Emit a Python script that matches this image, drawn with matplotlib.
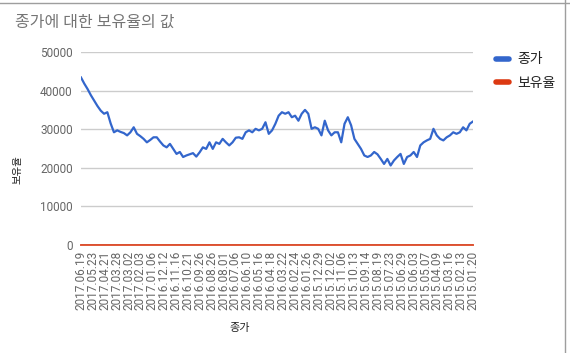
import numpy as np
import matplotlib
matplotlib.use("Agg")
import matplotlib.pyplot as plt
from matplotlib.lines import Line2D
from matplotlib.transforms import ScaledTranslation

plt.rcParams['font.family'] = ['Roboto', 'Noto Sans CJK KR', 'DejaVu Sans']

# 종가 (closing price), left to right as in the sheet (newest first)
closes = [43400, 41800, 40400, 38800, 37400, 36000, 34800, 34000, 34400, 31500,
          29200, 29700, 29300, 29000, 28400, 29200, 30500, 28800, 28200, 27500,
          26600, 27200, 27900, 27900, 26800, 25800, 25300, 26200, 24900, 23600,
          24100, 22800, 23200, 23500, 23800, 22900, 24000, 25300, 24900, 26600,
          24900, 26600, 26200, 27500, 26600, 25800, 26600, 27800, 27900, 27500,
          29200, 29700, 29200, 30100, 29700, 30100, 31800, 28800, 29700, 31400,
          33500, 34400, 34000, 34400, 33100, 33500, 32200, 34000, 35000, 34000,
          30100, 30500, 30100, 28400, 32200, 29700, 28400, 29200, 29200, 26600,
          31400, 33100, 31000, 27500, 26200, 24900, 23200, 22800, 23200, 24100,
          23500, 22300, 21000, 22300, 20600, 21900, 22800, 23600, 21000, 22800,
          23200, 24100, 22800, 25800, 26600, 27100, 27500, 30100, 28400, 27500,
          27100, 27900, 28400, 29200, 28800, 29200, 30500, 29700, 31400, 32000]
# 보유율 is ~0 everywhere
holding = [0] * len(closes)

date_labels = ['2017.06.19', '2017.05.23', '2017.04.21', '2017.03.28', '2017.03.02',
               '2017.02.03', '2017.01.06', '2016.12.12', '2016.11.16', '2016.10.21',
               '2016.09.26', '2016.08.26', '2016.08.01', '2016.07.06', '2016.06.10',
               '2016.05.16', '2016.04.18', '2016.03.22', '2016.02.24', '2016.01.26',
               '2015.12.29', '2015.12.02', '2015.11.06', '2015.10.13', '2015.09.14',
               '2015.08.19', '2015.07.23', '2015.06.29', '2015.06.03', '2015.05.07',
               '2015.04.09', '2015.03.16', '2015.02.13', '2015.01.20']

blue = '#3366cc'
red = '#dc3912'

fig = plt.figure(figsize=(5.7, 3.53), dpi=100)
ax = fig.add_axes([81 / 570, 1 - 245 / 353, (473 - 81) / 570, (245 - 52) / 353])

x = np.arange(len(closes))
ax.plot(x, closes, color=blue, lw=1.6, zorder=3)
ax.axhline(0, color='#333333', lw=1.0, zorder=2)
ax.plot(x, holding, color=red, lw=1.4, zorder=4, alpha=0.85, clip_on=False)

ax.set_xlim(0, len(closes) - 1)
ax.set_ylim(0, 50000)
ax.set_yticks(np.arange(0, 50001, 10000))
ax.yaxis.grid(True, color='#cccccc', lw=1)
ax.set_axisbelow(True)
for s in ax.spines.values():
    s.set_visible(False)
ax.tick_params(axis='both', length=0, labelsize=8.5, labelcolor='#666666')
ax.tick_params(axis='y', pad=6)

ax.set_xticks(np.linspace(0, len(closes) - 1, len(date_labels)))
ax.set_xticklabels(date_labels, rotation=90, fontsize=8.5, color='#666666')
shift = ScaledTranslation(-6 / 100, 0, fig.dpi_scale_trans)
for lab in ax.get_xticklabels():
    lab.set_transform(lab.get_transform() + shift)
ax.tick_params(axis='x', pad=4)

fig.text(15 / 570, 1 - 22 / 353, '종가에 대한 보유율의 값', fontsize=11.5,
         color='#757575', va='center', ha='left')
fig.text(240 / 570, 1 - 328 / 353, '종가', fontsize=8, color='#222222',
         ha='center', va='center')
fig.text(18 / 570, 1 - 170 / 353, '보유율', fontsize=7.5, color='#222222',
         rotation=90, ha='center', va='center')

handles = [Line2D([], [], color=blue, lw=4, solid_capstyle='round'),
           Line2D([], [], color=red, lw=4, solid_capstyle='round')]
fig.legend(handles, ['종가', '보유율'], loc='upper left',
           bbox_to_anchor=(483 / 570, 1 - 40 / 353), frameon=False,
           handlelength=1.0, handletextpad=0.6, labelspacing=0.7,
           prop={'size': 10}, labelcolor='#222222')

# screenshot frame edges
fig.add_artist(Line2D([0, 1], [1 - 3 / 353] * 2, color='#9e9e9e', lw=1))
fig.add_artist(Line2D([565 / 570] * 2, [0, 1], color='#9e9e9e', lw=1))

fig.savefig('out.png', dpi=100)
